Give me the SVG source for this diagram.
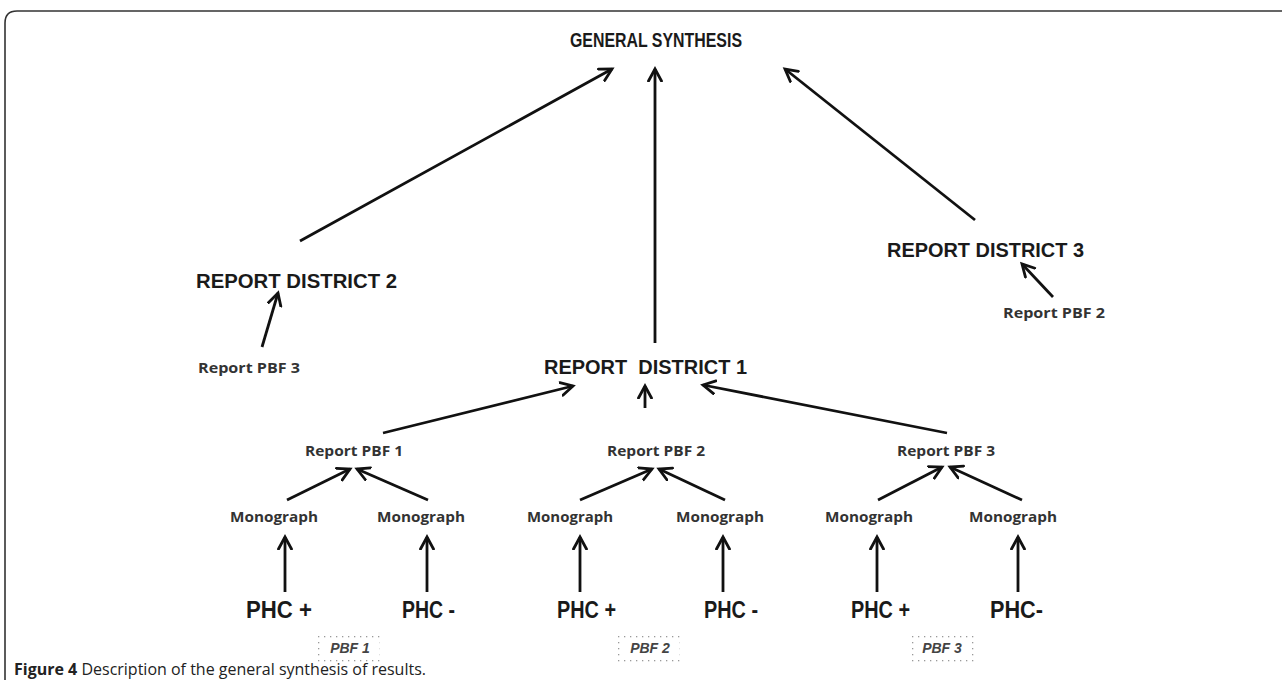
<svg xmlns="http://www.w3.org/2000/svg" width="1282" height="680" viewBox="0 0 1282 680">
<defs>
<marker id="ah" markerUnits="userSpaceOnUse" markerWidth="18" markerHeight="18" refX="13" refY="8" orient="auto">
<path d="M1,1.5 L13,8 L1,14.5" fill="none" stroke="#111" stroke-width="2.8" stroke-linecap="round" stroke-linejoin="miter"/>
</marker>
<pattern id="dots" width="6" height="6" patternUnits="userSpaceOnUse">
<rect x="0" y="0" width="1.3" height="1.3" fill="#999"/>
</pattern>
</defs>
<style>
.h{font-family:"Liberation Sans",Arial,sans-serif;font-weight:bold;font-size:20px;fill:#1a1a1a}
.s{font-family:"Open Sans","Liberation Sans",sans-serif;font-weight:bold;font-size:14px;fill:#333}
.m{font-family:"Open Sans","Liberation Sans",sans-serif;font-weight:bold;font-size:15px;fill:#333}
.p{font-family:"Liberation Sans",Arial,sans-serif;font-weight:bold;font-size:24px;fill:#1a1a1a}
.b{font-family:"Liberation Sans",Arial,sans-serif;font-weight:bold;font-style:italic;font-size:14px;fill:#444}
.c{stroke:#111;stroke-width:2.8;fill:none;marker-end:url(#ah)}
.cap{font-family:"Open Sans","Liberation Sans",sans-serif;font-size:16px;fill:#222}
</style>
<rect width="1282" height="680" fill="#fff"/>
<path d="M5,680 L5,23 Q5,11 17,11 L1282,11" fill="none" stroke="#333" stroke-width="1.6"/>

<g id="connectors">
<line class="c" x1="300" y1="241" x2="612" y2="69"/>
<line class="c" x1="655" y1="343" x2="655" y2="69"/>
<line class="c" x1="975" y1="220" x2="785" y2="69"/>
<line class="c" x1="262" y1="347" x2="278" y2="293"/>
<line class="c" x1="1053" y1="297" x2="1022" y2="264"/>
<line class="c" x1="383" y1="433" x2="573" y2="386"/>
<line class="c" x1="645" y1="408" x2="645" y2="386"/>
<line class="c" x1="947" y1="433" x2="703" y2="385"/>
<line class="c" x1="287" y1="500" x2="350" y2="469"/>
<line class="c" x1="428" y1="500" x2="357" y2="469"/>
<line class="c" x1="580" y1="500" x2="652" y2="469"/>
<line class="c" x1="725" y1="500" x2="659" y2="469"/>
<line class="c" x1="878" y1="500" x2="942" y2="467"/>
<line class="c" x1="1022" y1="500" x2="950" y2="467"/>
<line class="c" x1="285" y1="592" x2="285" y2="537"/>
<line class="c" x1="427" y1="592" x2="427" y2="537"/>
<line class="c" x1="580" y1="592" x2="580" y2="537"/>
<line class="c" x1="723" y1="592" x2="723" y2="537"/>
<line class="c" x1="877" y1="592" x2="877" y2="537"/>
<line class="c" x1="1018" y1="592" x2="1018" y2="537"/>
</g>

<g id="general"><text class="h" x="570" y="47" textLength="172" lengthAdjust="spacingAndGlyphs">GENERAL SYNTHESIS</text></g>
<g id="rd2"><text class="h" x="196" y="288" textLength="201" lengthAdjust="spacingAndGlyphs">REPORT DISTRICT 2</text></g>
<g id="rd2pbf3"><text class="s" x="198" y="373" textLength="102" lengthAdjust="spacingAndGlyphs">Report PBF 3</text></g>
<g id="rd3"><text class="h" x="887" y="257" textLength="197" lengthAdjust="spacingAndGlyphs">REPORT DISTRICT 3</text></g>
<g id="rd3pbf2"><text class="s" x="1003" y="318" textLength="102" lengthAdjust="spacingAndGlyphs">Report PBF 2</text></g>
<g id="rd1"><text class="h" x="544" y="374" textLength="203" lengthAdjust="spacingAndGlyphs" xml:space="preserve">REPORT  DISTRICT 1</text></g>

<g id="pbf1r"><text class="s" x="305" y="456" textLength="98" lengthAdjust="spacingAndGlyphs">Report PBF 1</text></g>
<g id="pbf2r"><text class="s" x="607" y="456" textLength="98" lengthAdjust="spacingAndGlyphs">Report PBF 2</text></g>
<g id="pbf3r"><text class="s" x="897" y="456" textLength="98" lengthAdjust="spacingAndGlyphs">Report PBF 3</text></g>

<g id="mono1"><text class="m" x="230" y="522" textLength="88" lengthAdjust="spacingAndGlyphs">Monograph</text></g>
<g id="mono2"><text class="m" x="377" y="522" textLength="88" lengthAdjust="spacingAndGlyphs">Monograph</text></g>
<g id="mono3"><text class="m" x="527" y="522" textLength="86" lengthAdjust="spacingAndGlyphs">Monograph</text></g>
<g id="mono4"><text class="m" x="676" y="522" textLength="88" lengthAdjust="spacingAndGlyphs">Monograph</text></g>
<g id="mono5"><text class="m" x="825" y="522" textLength="88" lengthAdjust="spacingAndGlyphs">Monograph</text></g>
<g id="mono6"><text class="m" x="969" y="522" textLength="88" lengthAdjust="spacingAndGlyphs">Monograph</text></g>

<g id="phc1"><text class="p" x="246" y="618" textLength="66" lengthAdjust="spacingAndGlyphs">PHC +</text></g>
<g id="phc2"><text class="p" x="402" y="618" textLength="53" lengthAdjust="spacingAndGlyphs">PHC -</text></g>
<g id="phc3"><text class="p" x="557" y="618" textLength="59" lengthAdjust="spacingAndGlyphs">PHC +</text></g>
<g id="phc4"><text class="p" x="704" y="618" textLength="54" lengthAdjust="spacingAndGlyphs">PHC -</text></g>
<g id="phc5"><text class="p" x="851" y="618" textLength="59" lengthAdjust="spacingAndGlyphs">PHC +</text></g>
<g id="phc6"><text class="p" x="990" y="618" textLength="53" lengthAdjust="spacingAndGlyphs">PHC-</text></g>

<g id="pbf1box"><rect x="318" y="634" width="65" height="28" fill="url(#dots)"/><rect x="322" y="638" width="57" height="20" fill="#fff"/><text class="b" x="350" y="653" text-anchor="middle">PBF 1</text></g>
<g id="pbf2box"><rect x="618" y="634" width="65" height="28" fill="url(#dots)"/><rect x="622" y="638" width="57" height="20" fill="#fff"/><text class="b" x="650" y="653" text-anchor="middle">PBF 2</text></g>
<g id="pbf3box"><rect x="910" y="634" width="65" height="28" fill="url(#dots)"/><rect x="914" y="638" width="57" height="20" fill="#fff"/><text class="b" x="942" y="653" text-anchor="middle">PBF 3</text></g>

<g id="caption"><text class="cap" x="14" y="675"><tspan font-weight="bold">Figure 4</tspan> Description of the general synthesis of results.</text></g>
</svg>
